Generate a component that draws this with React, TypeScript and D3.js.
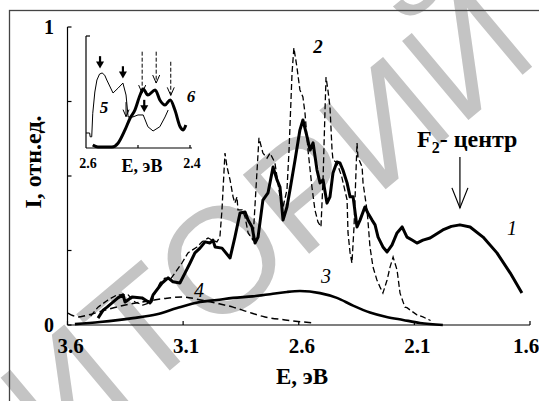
import React from 'react'
import * as d3 from 'd3'

const W = 539
const H = 401

// main axes
const xTicks = [3.6, 3.1, 2.6, 2.1, 1.6]
const yTicks = [0, 0.25, 0.5, 0.75, 1]
const yTickLabels = ['0', '', '', '', '1']

// 1 - thick solid spectrum [E, I]
const curve1: [number, number][] = [
  [3.468, 0.023], [3.446, 0.05], [3.429, 0.06], [3.382, 0.091], [3.36, 0.101], [3.351, 0.077],
  [3.321, 0.094], [3.278, 0.091], [3.243, 0.074], [3.23, 0.101], [3.191, 0.141], [3.165, 0.158],
  [3.144, 0.145], [3.114, 0.141], [3.092, 0.174], [3.07, 0.208], [3.049, 0.242], [3.027, 0.258],
  [3.005, 0.279], [2.984, 0.275], [2.971, 0.285], [2.962, 0.262], [2.932, 0.258], [2.897, 0.225],
  [2.876, 0.295], [2.854, 0.376], [2.832, 0.379], [2.819, 0.352], [2.802, 0.329], [2.789, 0.275],
  [2.776, 0.295], [2.755, 0.419], [2.733, 0.443], [2.711, 0.53], [2.694, 0.487], [2.681, 0.463],
  [2.668, 0.352], [2.651, 0.396], [2.638, 0.453], [2.616, 0.554], [2.595, 0.654], [2.582, 0.688],
  [2.564, 0.631], [2.551, 0.587], [2.538, 0.611], [2.521, 0.52], [2.508, 0.477], [2.495, 0.487],
  [2.478, 0.409], [2.465, 0.43], [2.452, 0.51], [2.435, 0.547], [2.422, 0.544], [2.409, 0.52],
  [2.391, 0.477], [2.378, 0.43], [2.365, 0.43], [2.348, 0.329], [2.335, 0.352], [2.314, 0.396],
  [2.301, 0.376], [2.283, 0.352], [2.27, 0.336], [2.257, 0.295], [2.236, 0.262], [2.218, 0.245],
  [2.197, 0.268], [2.175, 0.309], [2.153, 0.329], [2.132, 0.295], [2.11, 0.285], [2.089, 0.275],
  [2.063, 0.285], [2.032, 0.292], [1.977, 0.319], [1.94, 0.331], [1.903, 0.336], [1.859, 0.329],
  [1.803, 0.295], [1.743, 0.242], [1.686, 0.175], [1.635, 0.107],
]

// 2 - thin dashed spectrum
const curve2: [number, number][] = [
  [3.5, 0.03], [3.468, 0.06], [3.425, 0.084], [3.386, 0.101], [3.338, 0.101], [3.308, 0.077],
  [3.274, 0.067], [3.235, 0.077], [3.222, 0.107], [3.2, 0.141], [3.178, 0.158], [3.157, 0.151],
  [3.105, 0.208], [3.079, 0.242], [3.04, 0.262], [3.018, 0.279], [2.992, 0.292], [2.975, 0.285],
  [2.954, 0.279], [2.941, 0.295], [2.932, 0.386], [2.919, 0.577], [2.91, 0.53], [2.897, 0.487],
  [2.884, 0.43], [2.876, 0.409], [2.867, 0.43], [2.863, 0.386], [2.845, 0.386], [2.832, 0.362],
  [2.819, 0.309], [2.798, 0.285], [2.781, 0.51], [2.772, 0.628], [2.755, 0.577], [2.737, 0.56],
  [2.724, 0.577], [2.703, 0.544], [2.681, 0.43], [2.668, 0.396], [2.651, 0.453], [2.642, 0.587],
  [2.629, 0.846], [2.621, 0.93], [2.608, 0.866], [2.595, 0.789], [2.582, 0.765], [2.573, 0.711],
  [2.56, 0.587], [2.543, 0.463], [2.53, 0.386], [2.517, 0.346], [2.504, 0.329], [2.495, 0.487],
  [2.486, 0.732], [2.482, 0.832], [2.474, 0.789], [2.465, 0.732], [2.456, 0.587], [2.452, 0.554],
  [2.435, 0.544], [2.415, 0.5], [2.391, 0.42], [2.387, 0.309], [2.378, 0.242], [2.37, 0.208],
  [2.361, 0.329], [2.348, 0.611], [2.344, 0.564], [2.326, 0.53], [2.322, 0.477], [2.305, 0.386],
  [2.301, 0.352], [2.292, 0.262], [2.279, 0.195], [2.262, 0.151], [2.249, 0.128], [2.236, 0.107],
  [2.218, 0.151], [2.205, 0.195], [2.192, 0.228], [2.175, 0.185], [2.162, 0.107], [2.141, 0.06],
  [2.132, 0.058], [2.089, 0.034], [2.063, 0.027], [2.03, 0.015],
]

// 3 - solid smooth band
const curve3: [number, number][] = [
  [3.568, 0.003], [3.46, 0.01], [3.317, 0.023], [3.213, 0.036], [3.126, 0.057], [3.027, 0.077],
  [2.954, 0.084], [2.884, 0.091], [2.8, 0.096], [2.724, 0.103], [2.651, 0.111], [2.595, 0.114],
  [2.508, 0.107], [2.435, 0.091], [2.365, 0.065], [2.292, 0.042], [2.22, 0.027], [2.149, 0.017],
  [2.076, 0.007], [1.977, 0],
]

// 4 - dashed smooth band
const curve4: [number, number][] = [
  [3.598, 0.04], [3.575, 0.031], [3.555, 0.027], [3.52, 0.032], [3.459, 0.045], [3.4, 0.058],
  [3.317, 0.072], [3.24, 0.082], [3.17, 0.09], [3.1, 0.094], [3.03, 0.085], [2.962, 0.074],
  [2.884, 0.06], [2.82, 0.044], [2.746, 0.027], [2.659, 0.017], [2.58, 0.01], [2.53, 0.007],
]

// inset: 5 (thin) and 6 (thick)
const insetTicks = [2.6, 2.4]
const curve5: [number, number][] = [
  [2.6, 0.134], [2.593, 0.134], [2.592, 0.1], [2.589, 0.1], [2.587, 0.31], [2.583, 0.5],
  [2.579, 0.607], [2.574, 0.66], [2.569, 0.67], [2.564, 0.65], [2.56, 0.607], [2.548, 0.491],
  [2.538, 0.536], [2.529, 0.58], [2.523, 0.473], [2.519, 0.277], [2.51, 0.277], [2.5, 0.295],
  [2.49, 0.295], [2.481, 0.19], [2.471, 0.152], [2.458, 0.19], [2.448, 0.277], [2.442, 0.339],
]
const curve6: [number, number][] = [
  [2.587, 0.027], [2.577, 0.009], [2.55, 0.009], [2.538, 0.045], [2.525, 0.161], [2.515, 0.268],
  [2.506, 0.339], [2.496, 0.473], [2.49, 0.527], [2.481, 0.473], [2.467, 0.518], [2.458, 0.429],
  [2.448, 0.384], [2.438, 0.429], [2.429, 0.339], [2.419, 0.19], [2.413, 0.161], [2.408, 0.205],
]
// inset arrows [E, from, to]
const solidArrows: [number, number, number][] = [[2.573, 0.82, 0.71], [2.529, 0.73, 0.62], [2.488, 0.43, 0.32]]
const dashedArrows: [number, number, number][] = [[2.492, 0.86, 0.49], [2.465, 0.86, 0.58], [2.437, 0.77, 0.47]]
const thinArrows: [number, number, number][] = [[2.523, 0.41, 0.28]]

// F2 centre arrow [E, from, to]
const f2Arrow: [number, number, number] = [1.903, 0.564, 0.393]

const serif = '"Liberation Serif", "Times New Roman", serif'

export default function App() {
  const x = d3.scaleLinear().domain([3.6, 1.6]).range([67.5, 530])
  const y = d3.scaleLinear().domain([0, 1]).range([325, 27])
  const ix = d3.scaleLinear().domain([2.6, 2.4]).range([86, 190])
  const iy = d3.scaleLinear().domain([0, 1]).range([148, 36])

  const raw = d3.line<[number, number]>().x(d => x(d[0])).y(d => y(d[1]))
  const smooth = d3.line<[number, number]>().x(d => x(d[0])).y(d => y(d[1])).curve(d3.curveMonotoneX)
  const iline = d3.line<[number, number]>().x(d => ix(d[0])).y(d => iy(d[1])).curve(d3.curveMonotoneX)
  const ilineRaw = d3.line<[number, number]>().x(d => ix(d[0])).y(d => iy(d[1]))

  const openHead = (px: number, py: number, w: number, h: number) =>
    `M${px - w},${py - h}L${px},${py}L${px + w},${py - h}`

  return (
    <svg width={W} height={H} style={{ position: 'absolute', left: 0, top: 0, background: '#fff' }}>
      {/* watermark */}
      <g transform="translate(220,258) rotate(-40)" fill="#c4c4c4"
        fontFamily='"Liberation Sans", Arial, sans-serif' fontSize={150}>
        <text x={-58} y={54} textAnchor="end">РЕПОЗИТ</text>
        <text x={-58} y={54} textAnchor="start">ОРИЙ</text>
      </g>

      <rect x={9.5} y={10.5} width={700} height={700} fill="none" stroke="#444" strokeWidth={1.3} />

      {/* main axes */}
      <g stroke="#000" strokeWidth={1.2} fill="none">
        <line x1={x(3.6)} x2={x(3.6)} y1={y(1)} y2={y(0)} />
        <line x1={x(3.6)} x2={x(1.6)} y1={y(0)} y2={y(0)} />
        {yTicks.map(t => <line key={'yt' + t} x1={x(3.6)} x2={x(3.6) + 4} y1={y(t)} y2={y(t)} />)}
        {xTicks.map(t => <line key={'xt' + t} x1={x(t)} x2={x(t)} y1={y(0)} y2={y(0) - 4} />)}
      </g>
      <g fontFamily={serif} fontWeight="bold" fontSize={21} textAnchor="middle">
        {xTicks.map((t, i) => (
          <text key={'xl' + t} x={Math.min(x(t) + 3, 526)} y={353}>{t.toFixed(1)}</text>
        ))}
        {yTicks.map((t, i) => yTickLabels[i] ? (
          <text key={'yl' + t} x={49} y={y(t) + 7} fontSize={20}>{yTickLabels[i]}</text>
        ) : null)}
        <text x={302} y={384} fontSize={23}>E, эВ</text>
        <text transform="translate(41,162) rotate(-90)" fontSize={24}>I, отн.ед.</text>
      </g>

      {/* curves */}
      <path d={smooth(curve4) || ''} fill="none" stroke="#000" strokeWidth={1.5} strokeDasharray="7,4" />
      <path d={smooth(curve3) || ''} fill="none" stroke="#000" strokeWidth={2.6} />
      <path d={raw(curve2) || ''} fill="none" stroke="#000" strokeWidth={1.3} strokeDasharray="6,3" />
      <path d={raw(curve1) || ''} fill="none" stroke="#000" strokeWidth={3} strokeLinejoin="round" />

      {/* curve numbers */}
      <g fontFamily={serif} fontStyle="italic" fontSize={20}>
        <text x={512} y={235} textAnchor="middle">1</text>
        <text x={318} y={53} textAnchor="middle" fontWeight="bold" fontSize={19}>2</text>
        <text x={326} y={283} textAnchor="middle">3</text>
        <text x={199} y={297} textAnchor="middle">4</text>
      </g>

      {/* F2 centre */}
      <text x={417} y={147} fontFamily={serif} fontWeight="bold" fontSize={24}>
        F<tspan fontSize={16} dy={6}>2</tspan><tspan dy={-6}>- центр</tspan>
      </text>
      <g stroke="#000" strokeWidth={1.2} fill="none">
        <line x1={x(f2Arrow[0])} x2={x(f2Arrow[0])} y1={y(f2Arrow[1])} y2={y(f2Arrow[2])} />
        <path d={openHead(x(f2Arrow[0]), y(f2Arrow[2]), 8, 20)} />
      </g>

      {/* inset */}
      <g stroke="#000" strokeWidth={1.2} fill="none">
        <line x1={ix(2.6)} x2={ix(2.6)} y1={iy(1)} y2={iy(0)} />
        <line x1={ix(2.6)} x2={ix(2.6) + 4} y1={iy(1)} y2={iy(1)} />
        <line x1={ix(2.6)} x2={ix(2.4) + 2} y1={iy(0)} y2={iy(0)} />
        <line x1={ix(2.5)} x2={ix(2.5)} y1={iy(0)} y2={iy(0) - 3} />
        <line x1={ix(2.4)} x2={ix(2.4)} y1={iy(0)} y2={iy(0) - 3} />
      </g>
      <path d={ilineRaw(curve5) || ''} fill="none" stroke="#000" strokeWidth={1} />
      <path d={iline(curve6) || ''} fill="none" stroke="#000" strokeWidth={3} />
      {solidArrows.map(([e, a, b]) => (
        <g key={'sa' + e}>
          <line x1={ix(e)} x2={ix(e)} y1={iy(a)} y2={iy(b) - 5} stroke="#000" strokeWidth={2.2} />
          <path d={`M${ix(e) - 4},${iy(b) - 7}L${ix(e)},${iy(b)}L${ix(e) + 4},${iy(b) - 7}Z`} fill="#000" />
        </g>
      ))}
      {dashedArrows.map(([e, a, b]) => (
        <g key={'da' + e} stroke="#000" strokeWidth={1} fill="none">
          <line x1={ix(e)} x2={ix(e)} y1={iy(a)} y2={iy(b)} strokeDasharray="4,2" />
          <path d={openHead(ix(e), iy(b), 3.5, 8)} />
        </g>
      ))}
      {thinArrows.map(([e, a, b]) => (
        <g key={'ta' + e} stroke="#000" strokeWidth={1} fill="none">
          <line x1={ix(e)} x2={ix(e)} y1={iy(a)} y2={iy(b)} />
          <path d={openHead(ix(e), iy(b), 3, 7)} />
        </g>
      ))}
      <g fontFamily={serif} fontWeight="bold" textAnchor="middle">
        {insetTicks.map(t => (
          <text key={'it' + t} x={ix(t) + 2} y={168} fontSize={14}>{t.toFixed(1)}</text>
        ))}
        <text x={142} y={172} fontSize={18}>E, эВ</text>
        <text x={104} y={113} fontSize={17} fontStyle="italic">5</text>
        <text x={191} y={102} fontSize={17} fontStyle="italic">6</text>
      </g>
    </svg>
  )
}
